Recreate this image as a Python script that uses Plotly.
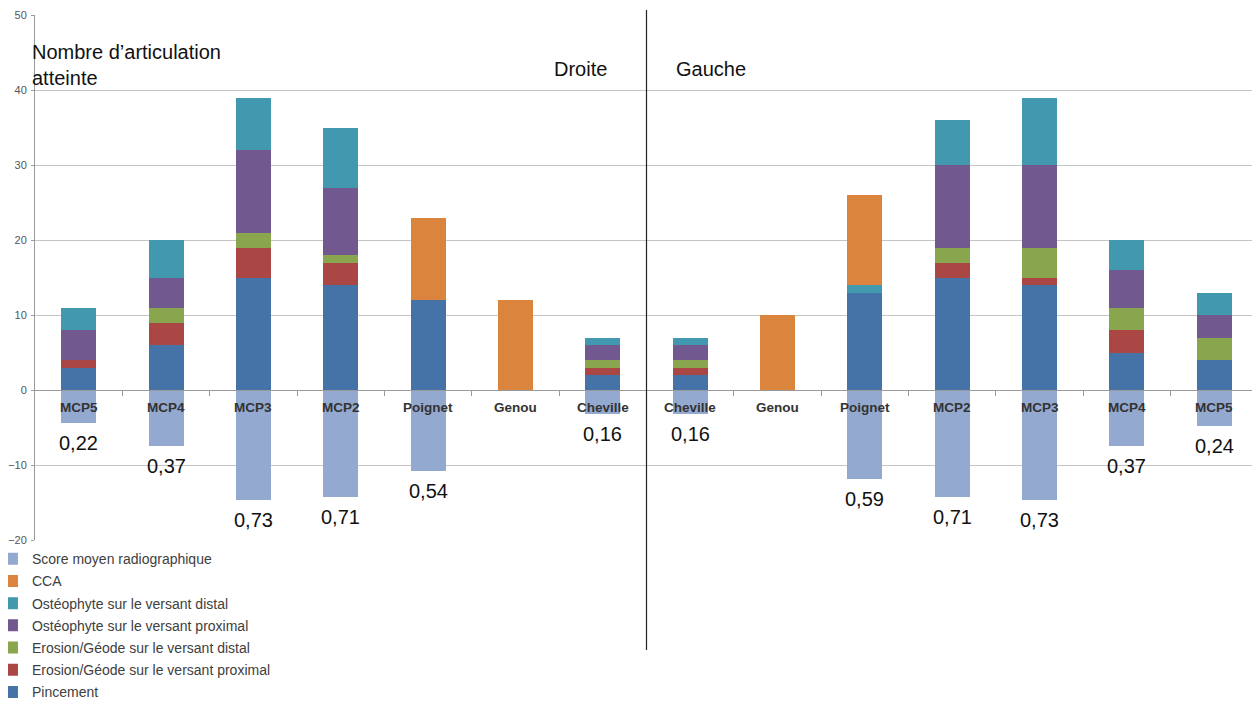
import plotly.graph_objects as go

categories = ["MCP5", "MCP4", "MCP3", "MCP2", "Poignet", "Genou", "Cheville",
              "Cheville", "Genou", "Poignet", "MCP2", "MCP3", "MCP4", "MCP5"]

pincement      = [3, 6, 15, 14, 12, 0, 2, 2, 0, 13, 15, 14, 5, 4]
erosion_prox   = [1, 3, 4, 3, 0, 0, 1, 1, 0, 0, 2, 1, 3, 0]
erosion_dist   = [0, 2, 2, 1, 0, 0, 1, 1, 0, 0, 2, 4, 3, 3]
osteo_prox     = [4, 4, 11, 9, 0, 0, 2, 2, 0, 0, 11, 11, 5, 3]
osteo_dist     = [3, 5, 7, 8, 0, 0, 1, 1, 0, 1, 6, 9, 4, 3]
cca            = [0, 0, 0, 0, 11, 12, 0, 0, 10, 12, 0, 0, 0, 0]
score_moyen    = [0.22, 0.37, 0.73, 0.71, 0.54, None, 0.16,
                  0.16, None, 0.59, 0.71, 0.73, 0.37, 0.24]
score_scale = 20  # score drawn downward, scaled x20

y_ticks = [-20, -10, 0, 10, 20, 30, 40, 50]

series = [
    ("Pincement", pincement, "#4572A7"),
    ("Erosion/Géode sur le versant proximal", erosion_prox, "#AA4643"),
    ("Erosion/Géode sur le versant distal", erosion_dist, "#89A54E"),
    ("Ostéophyte sur le versant proximal", osteo_prox, "#71588F"),
    ("Ostéophyte sur le versant distal", osteo_dist, "#4198AF"),
    ("CCA", cca, "#DB843D"),
]

xs = list(range(len(categories)))
fig = go.Figure()

n = len(series)
for k, (name, vals, col) in enumerate(series):
    fig.add_trace(go.Bar(x=xs, y=vals, name=name, marker=dict(color=col, line=dict(width=0)),
                         width=0.4, legendgroup=name, legendrank=n + 1 - k))

score_vals = [(-score_scale * s) if s is not None else None for s in score_moyen]
fig.add_trace(go.Bar(x=xs, y=score_vals, name="Score moyen radiographique",
                     marker=dict(color="#93A9CF", line=dict(width=0)), width=0.4,
                     legendgroup="score", legendrank=0))

# Category labels just under the zero line
for i, c in enumerate(categories):
    fig.add_annotation(x=i, y=0, xref="x", yref="y", text="<b>%s</b>" % c, showarrow=False,
                       yshift=-17, font=dict(family="Liberation Sans, Arial", size=13.5, color="#333333"))

# Score labels under the negative bars
for i, s in enumerate(score_moyen):
    if s is None:
        continue
    fig.add_annotation(x=i, y=-score_scale * s, xref="x", yref="y",
                       text=("%.2f" % s).replace(".", ","), showarrow=False, yshift=-20,
                       font=dict(family="Liberation Sans, Arial", size=20, color="#111111"))

txtfont = dict(family="Liberation Sans, Arial", size=20, color="#111111")
fig.add_annotation(x=0, y=1.0, xref="paper", yref="paper", text="Nombre d’articulation<br>atteinte",
                   showarrow=False, xanchor="left", yanchor="top", align="left", font=txtfont,
                   xshift=-5, yshift=-24)
fig.add_annotation(x=6.5, y=1.0, xref="x", yref="paper", text="Droite", showarrow=False,
                   xanchor="right", yanchor="top", font=txtfont, xshift=-38, yshift=-41)
fig.add_annotation(x=6.5, y=1.0, xref="x", yref="paper", text="Gauche", showarrow=False,
                   xanchor="left", yanchor="top", font=txtfont, xshift=27, yshift=-41)

# Separator Droite / Gauche
fig.add_shape(type="line", xref="x", yref="paper", x0=6.5, x1=6.5, y0=-0.2095, y1=1.0095,
              line=dict(color="#222222", width=1.2))

# page has an 8px body margin: figure is drawn 8px right/down
fig.update_layout(
    width=1252, height=695,
    barmode="relative",
    plot_bgcolor="white", paper_bgcolor="white",
    margin=dict(l=27, r=2, t=7, b=163, autoexpand=False),
    font=dict(family="Liberation Sans, Arial", color="#333333"),
    showlegend=True,
    legend=dict(x=-0.0352, y=-0.006, xanchor="left", yanchor="top",
                traceorder="grouped", tracegroupgap=1,
                font=dict(size=14, color="#404040"), bgcolor="rgba(0,0,0,0)",
                itemwidth=30),
    bargap=0,
)

fig.update_xaxes(range=[-0.5, 13.5], anchor="free", position=20 / 70,
                 tickmode="array", tickvals=[i + 0.5 for i in range(13)],
                 showticklabels=False, ticks="outside", ticklen=5, tickcolor="#9a9a9a",
                 showline=True, linecolor="#9a9a9a", linewidth=1, showgrid=False, zeroline=False)
fig.update_yaxes(range=[-20, 50], tickvals=y_ticks, showgrid=True, gridcolor="#c4c4c4", gridwidth=1,
                 showline=True, linecolor="#9a9a9a", ticks="outside", ticklen=3, tickcolor="#9a9a9a",
                 zeroline=False, tickfont=dict(size=11, color="#555555"), ticklabelstandoff=2)

fig.write_html("out.html")
